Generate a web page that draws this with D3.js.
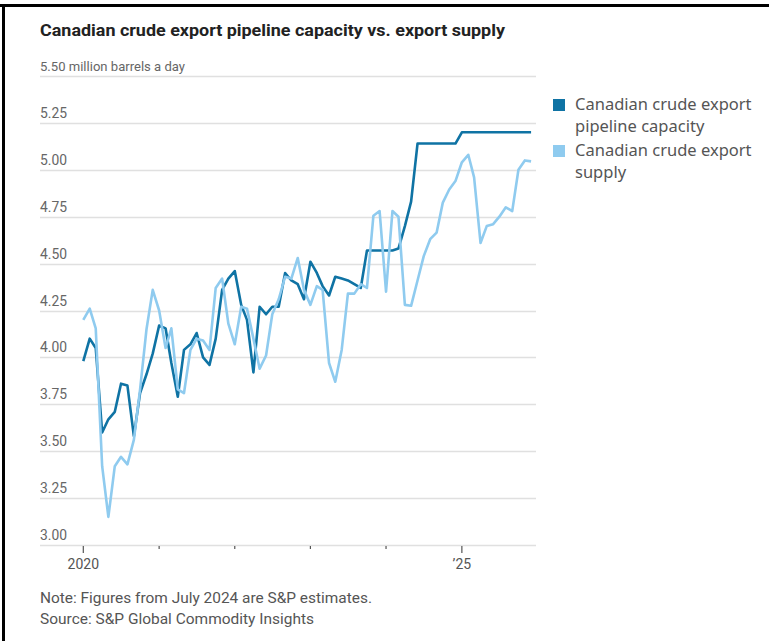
<!DOCTYPE html>
<html><head><meta charset="utf-8">
<script src="https://cdn.jsdelivr.net/npm/d3@7"></script>
<style>
html,body{margin:0;padding:0;background:#fff;}
svg{display:block;}
</style></head>
<body>
<svg id="chart" width="769" height="641"></svg>
<script>
const title = "Canadian crude export pipeline capacity vs. export supply";
const unitLabel = "million barrels a day";
const seriesNames = ["Canadian crude export pipeline capacity", "Canadian crude export supply"];
const legendLines = [["Canadian crude export", "pipeline capacity"], ["Canadian crude export", "supply"]];
const startYear = 2020, startMonth = 0; // monthly data, Jan 2020 – Dec 2025
const capacity = [
  3.98, 4.10, 4.05, 3.60, 3.67, 3.71, 3.86, 3.85, 3.58, 3.81, 3.91, 4.02,
  4.17, 4.155, 3.97, 3.79, 4.04, 4.07, 4.13, 4.00, 3.96, 4.10, 4.36, 4.42,
  4.46, 4.28, 4.20, 3.92, 4.27, 4.23, 4.27, 4.27, 4.45, 4.41, 4.39, 4.31,
  4.51, 4.45, 4.38, 4.33, 4.43, 4.42, 4.41, 4.39, 4.37, 4.57, 4.57, 4.57,
  4.57, 4.57, 4.58, 4.70, 4.83, 5.14, 5.14, 5.14, 5.14, 5.14, 5.14, 5.14,
  5.20, 5.20, 5.20, 5.20, 5.20, 5.20, 5.20, 5.20, 5.20, 5.20, 5.20, 5.20
];
const supply = [
  4.20, 4.26, 4.155, 3.42, 3.15, 3.42, 3.47, 3.43, 3.56, 3.83, 4.15, 4.36,
  4.25, 4.05, 4.155, 3.83, 3.81, 4.04, 4.10, 4.09, 4.04, 4.37, 4.42, 4.18,
  4.07, 4.27, 4.26, 4.10, 3.94, 4.01, 4.23, 4.31, 4.43, 4.42, 4.53, 4.36,
  4.28, 4.38, 4.36, 3.97, 3.87, 4.04, 4.34, 4.34, 4.39, 4.37, 4.755, 4.78,
  4.35, 4.78, 4.75, 4.28, 4.275, 4.41, 4.54, 4.63, 4.665, 4.825, 4.895, 4.94,
  5.04, 5.08, 4.96, 4.61, 4.70, 4.71, 4.75, 4.80, 4.78, 5.00, 5.05, 5.045
];
const yTicks = [3.00, 3.25, 3.50, 3.75, 4.00, 4.25, 4.50, 4.75, 5.00, 5.25, 5.50];
const xTickYears = [2020, 2021, 2022, 2023, 2024, 2025];
const xTickLabels = {2020: "2020", 2025: "\u201925"};
const notes = ["Note: Figures from July 2024 are S&P estimates.", "Source: S&P Global Commodity Insights"];

const colors = ["#0f73a4", "#8fcbef"];
const svg = d3.select("#chart");
const condensed = "'Liberation Sans Narrow','Roboto','Noto Sans',sans-serif";
const plainFont = "'Noto Sans','Open Sans',sans-serif";

// frame
svg.append("rect").attr("x", 0).attr("y", 4).attr("width", 769).attr("height", 3).attr("fill", "#000");
svg.append("rect").attr("x", 2).attr("y", 4).attr("width", 3).attr("height", 637).attr("fill", "#000");

const x = d3.scaleTime()
  .domain([new Date(2020, 0, 1), new Date(2026, 0, 1)])
  .range([83.3, 537.5]);
const y = d3.scaleLinear().domain([3, 5.5]).range([545, 76]);
const gridX0 = 40, gridX1 = 536;

function fitText(sel, w) {
  sel.attr("textLength", w).attr("lengthAdjust", "spacingAndGlyphs");
}

// title
svg.append("text").attr("x", 40).attr("y", 36)
  .attr("font-family", condensed).attr("font-weight", "bold").attr("font-size", 17)
  .attr("fill", "#222").text(title).call(fitText, 465);

// gridlines
svg.append("g").selectAll("line").data(yTicks).join("line")
  .attr("x1", gridX0).attr("x2", gridX1)
  .attr("y1", d => Math.round(y(d)) + 0.5).attr("y2", d => Math.round(y(d)) + 0.5)
  .attr("stroke", "#e0e0e0").attr("stroke-width", 1.5);

// y labels
const yl = svg.append("g").selectAll("text").data(yTicks).join("text")
  .attr("x", 40).attr("y", d => y(d) - 5)
  .attr("font-family", condensed).attr("font-size", 14).attr("fill", "#666")
  .text(d => d === 5.5 ? d.toFixed(2) + " " + unitLabel : d.toFixed(2));
yl.filter(d => d === 5.5).attr("font-size", 13).call(fitText, 145);
yl.filter(d => d !== 5.5).call(fitText, 27);

// x ticks
const xg = svg.append("g");
xg.selectAll("line").data(xTickYears).join("line")
  .attr("x1", d => x(new Date(d, 0, 1))).attr("x2", d => x(new Date(d, 0, 1)))
  .attr("y1", 546).attr("y2", d => xTickLabels[d] ? 553 : 549)
  .attr("stroke", "#555").attr("stroke-width", 1.2);
xg.selectAll("text").data(xTickYears.filter(d => xTickLabels[d])).join("text")
  .attr("x", d => x(new Date(d, 0, 1))).attr("y", 569)
  .attr("text-anchor", "middle")
  .attr("font-family", condensed).attr("font-size", 14).attr("fill", "#555")
  .text(d => xTickLabels[d]);

// lines
const dates = capacity.map((_, i) => new Date(startYear, startMonth + i, 1));
const line = d3.line().x((d, i) => x(dates[i])).y(d => y(d)).curve(d3.curveLinear);
[capacity, supply].forEach((s, k) => {
  svg.append("path").datum(s).attr("d", line)
    .attr("fill", "none").attr("stroke", colors[k]).attr("stroke-width", 2.6)
    .attr("stroke-linejoin", "round").attr("stroke-linecap", "butt");
});

// legend
const lg = svg.append("g");
legendLines.forEach((ls, k) => {
  const top = 97 + k * 46;
  lg.append("rect").attr("x", 553).attr("y", top + 2).attr("width", 12).attr("height", 12).attr("fill", colors[k]);
  ls.forEach((t, j) => {
    lg.append("text").attr("x", 575).attr("y", top + 13 + j * 22)
      .attr("font-family", plainFont).attr("font-size", 16.5).attr("fill", "#555").text(t);
  });
});

// notes
notes.forEach((t, j) => {
  svg.append("text").attr("x", 40).attr("y", 603 + j * 21)
    .attr("font-family", condensed).attr("font-size", 15).attr("fill", "#555")
    .text(t).call(fitText, j === 0 ? 332 : 274);
});
</script>
</body></html>
